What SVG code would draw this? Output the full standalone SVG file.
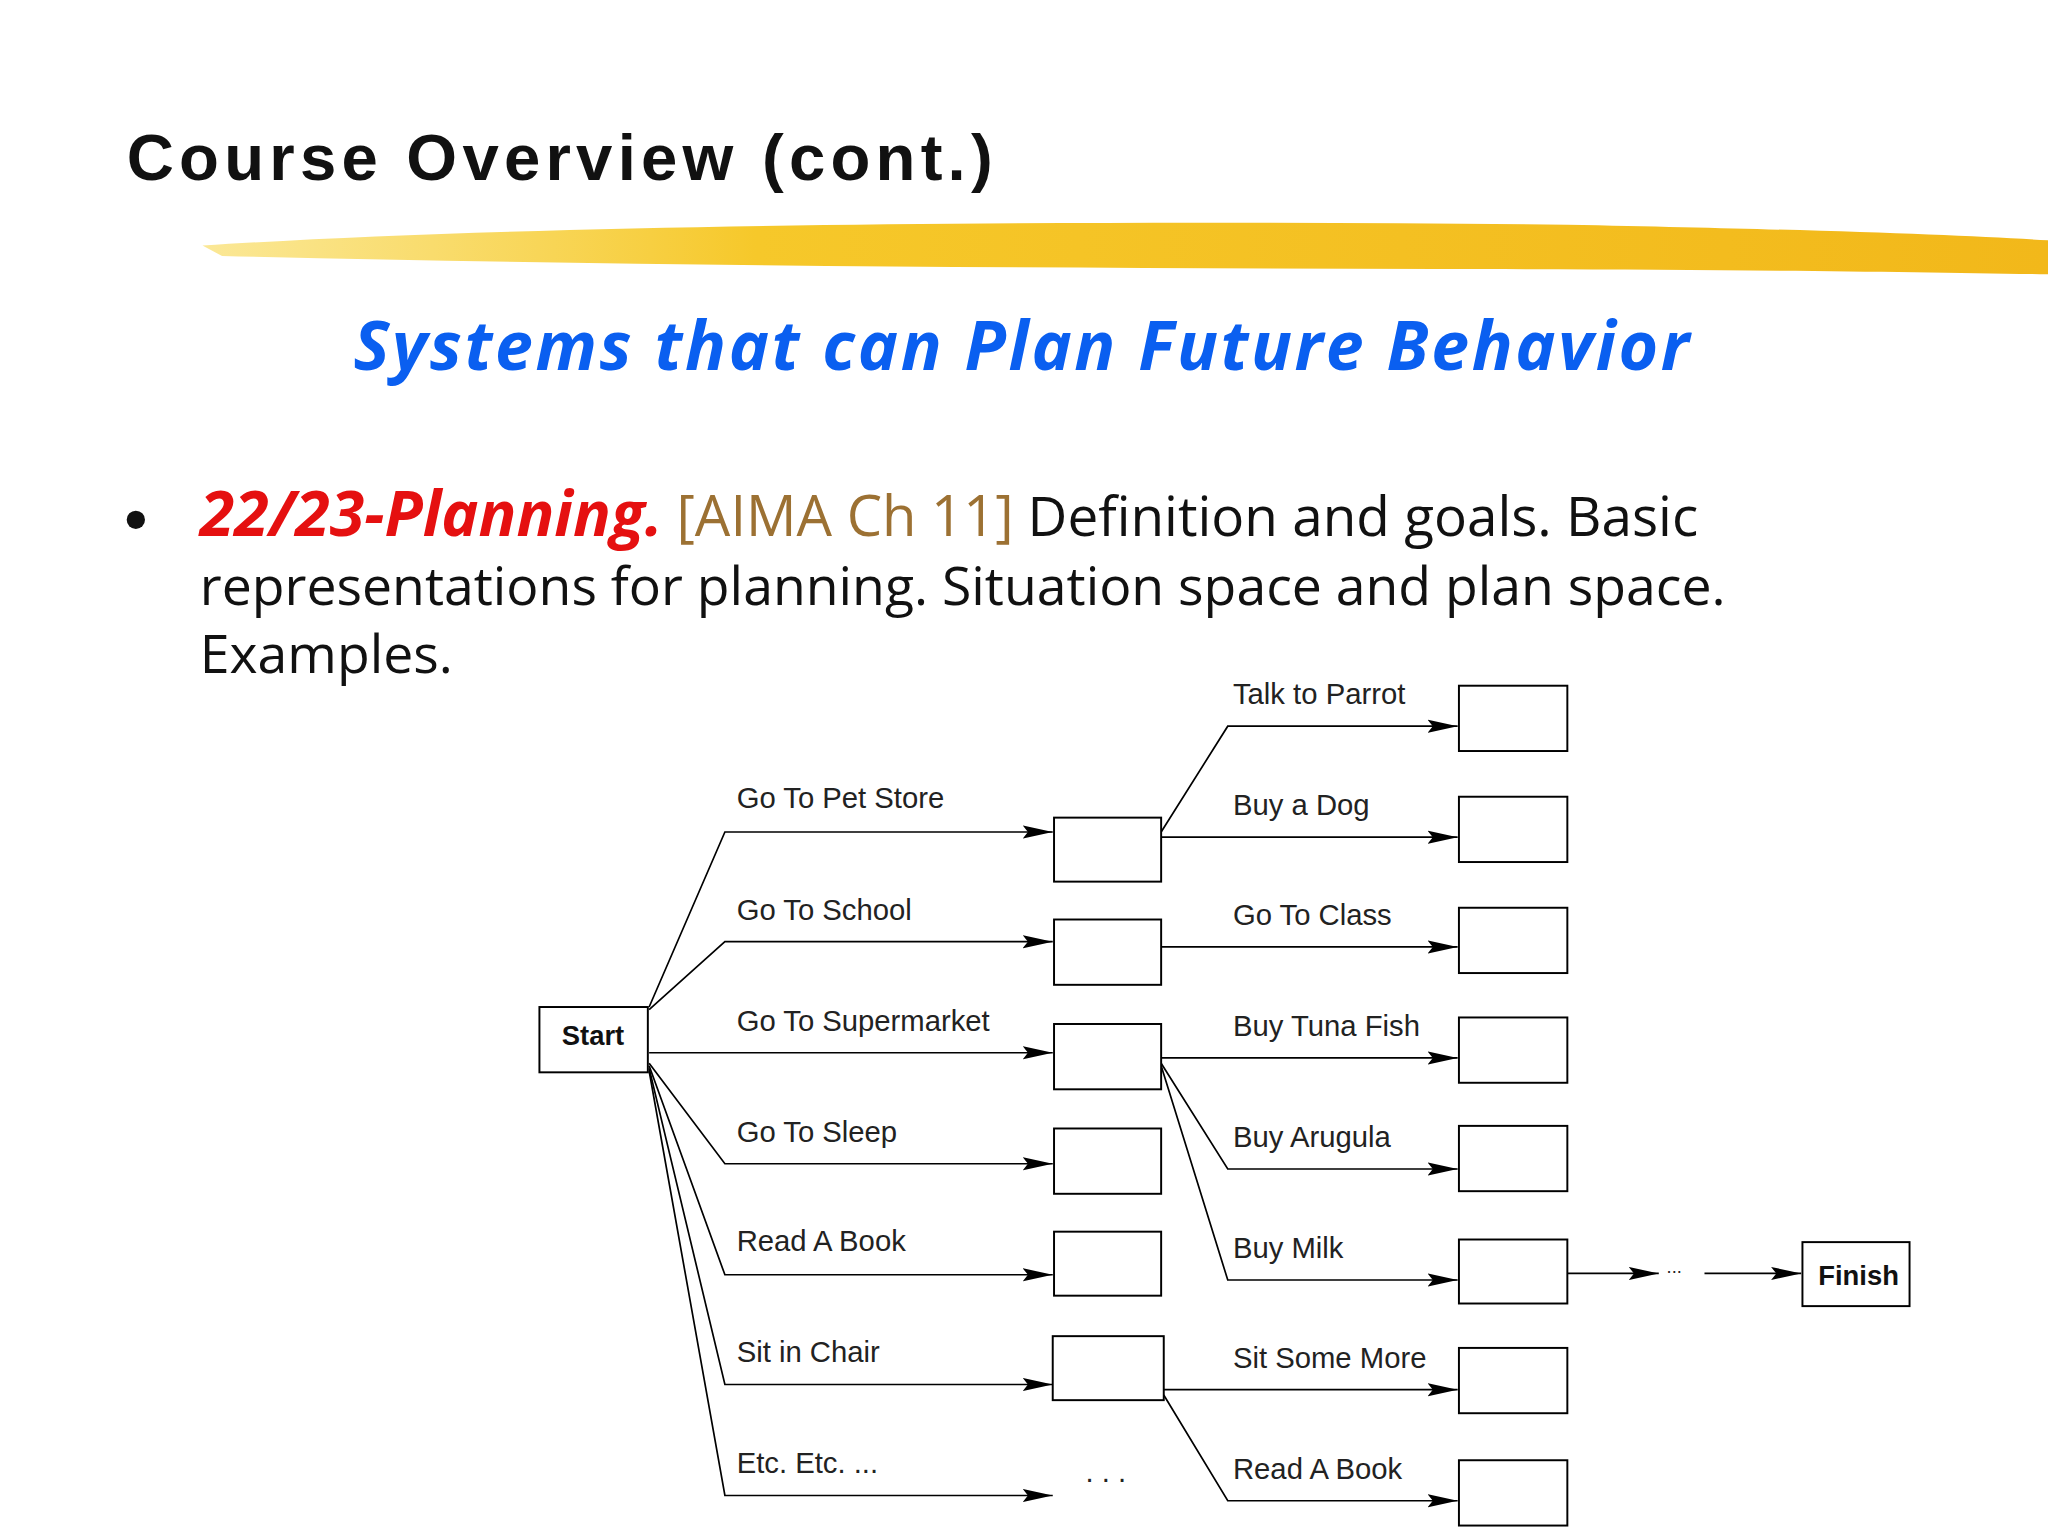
<svg xmlns="http://www.w3.org/2000/svg" width="2048" height="1536" viewBox="0 0 2048 1536">
<defs>
<marker id="ah" markerWidth="24" markerHeight="12" refX="23" refY="6" orient="auto" markerUnits="userSpaceOnUse"><path d="M0,1 L23,6 L0,11 L4,6 Z" fill="#000"/></marker>
<linearGradient id="yb" x1="0" x2="1"><stop offset="0" stop-color="#f8d850" stop-opacity="0.6"/><stop offset="0.3" stop-color="#f6c82a"/><stop offset="1" stop-color="#f2b81a"/></linearGradient>
</defs>
<style>
.b{fill:#fff;stroke:#000;stroke-width:1.5}
.c{fill:none;stroke:#000;stroke-width:1.3;marker-end:url(#ah)}
.l{font-family:"Liberation Sans",Arial,sans-serif;font-size:22.4px;fill:#222}
.bt{font-family:"Liberation Sans",Arial,sans-serif;font-size:21px;font-weight:bold;fill:#111}
.t{font-family:"Open Sans","Liberation Sans",sans-serif;font-size:41px;fill:#111}
</style>
<rect width="2048" height="1536" fill="#fff"/>
<g transform="scale(1.30612)">
<text x="97" y="138" font-family="Liberation Sans,Arial,sans-serif" font-size="50" font-weight="bold" letter-spacing="4" fill="#111">Course Overview (cont.)</text>
<path d="M155,188 C400,172 800,168 1200,172 C1400,176 1500,180 1568,184 L1568,210 C1450,208 1300,206 1100,206 C800,205 500,204 170,196 Z" fill="url(#yb)"/>
<text x="783" y="283" text-anchor="middle" font-family="Open Sans,Liberation Sans,sans-serif" font-size="52" font-weight="bold" font-style="italic" letter-spacing="2" fill="#0a5ff0">Systems that can Plan Future Behavior</text>
<circle cx="104" cy="398" r="7" fill="#111"/>
<text class="t" x="153" y="410"><tspan fill="#e51010" font-weight="bold" font-style="italic" font-size="48">22/23-Planning.</tspan> <tspan fill="#9c7133" font-size="43">[AIMA Ch 11]</tspan> <tspan font-size="42">Definition and goals. Basic</tspan></text>
<text class="t" x="153" y="463">representations for planning. Situation space and plan space.</text>
<text class="t" x="153" y="515">Examples.</text>

<g id="connectors">
<path class="c" d="M497,771 L555,637 L806,637"/>
<path class="c" d="M497,773 L555,721 L806,721"/>
<path class="c" d="M497,806 L806,806"/>
<path class="c" d="M497,814 L555,891 L806,891"/>
<path class="c" d="M497,816 L555,976 L806,976"/>
<path class="c" d="M497,818 L555,1060 L806,1060"/>
<path class="c" d="M497,820 L555,1145 L806,1145"/>
<path class="c" d="M889,637 L940,556 L1116,556"/>
<path class="c" d="M889,641 L1116,641"/>
<path class="c" d="M889,725 L1116,725"/>
<path class="c" d="M889,810 L1116,810"/>
<path class="c" d="M889,814 L940,895 L1116,895"/>
<path class="c" d="M889,816 L940,980 L1116,980"/>
<path class="c" d="M891,1064 L1116,1064"/>
<path class="c" d="M891,1068 L940,1149 L1116,1149"/>
<path class="c" d="M1200,975 L1270,975"/>
<path class="c" d="M1305,975 L1379,975"/>
</g>
<g class="l">
<text x="564" y="619">Go To Pet Store</text>
<text x="564" y="704">Go To School</text>
<text x="564" y="789">Go To Supermarket</text>
<text x="564" y="874">Go To Sleep</text>
<text x="564" y="958">Read A Book</text>
<text x="564" y="1043">Sit in Chair</text>
<text x="564" y="1128">Etc. Etc. ...</text>
<text x="944" y="539">Talk to Parrot</text>
<text x="944" y="624">Buy a Dog</text>
<text x="944" y="708">Go To Class</text>
<text x="944" y="793">Buy Tuna Fish</text>
<text x="944" y="878">Buy Arugula</text>
<text x="944" y="963">Buy Milk</text>
<text x="944" y="1047">Sit Some More</text>
<text x="944" y="1132">Read A Book</text>
<text x="1276" y="975" font-size="14">...</text>
<text x="831" y="1135">. . .</text>
</g>
<g id="start"><rect class="b" x="413" y="771" width="83" height="50"/><text class="bt" x="454" y="800" text-anchor="middle">Start</text></g>
<g id="finish"><rect class="b" x="1380" y="951" width="82" height="49"/><text class="bt" x="1423" y="984" text-anchor="middle">Finish</text></g>
<g id="m1"><rect class="b" x="807" y="626" width="82" height="49"/></g>
<g id="m2"><rect class="b" x="807" y="704" width="82" height="50"/></g>
<g id="m3"><rect class="b" x="807" y="784" width="82" height="50"/></g>
<g id="m4"><rect class="b" x="807" y="864" width="82" height="50"/></g>
<g id="m5"><rect class="b" x="807" y="943" width="82" height="49"/></g>
<g id="m6"><rect class="b" x="806" y="1023" width="85" height="49"/></g>
<g id="r1"><rect class="b" x="1117" y="525" width="83" height="50"/></g>
<g id="r2"><rect class="b" x="1117" y="610" width="83" height="50"/></g>
<g id="r3"><rect class="b" x="1117" y="695" width="83" height="50"/></g>
<g id="r4"><rect class="b" x="1117" y="779" width="83" height="50"/></g>
<g id="r5"><rect class="b" x="1117" y="862" width="83" height="50"/></g>
<g id="r6"><rect class="b" x="1117" y="949" width="83" height="49"/></g>
<g id="r7"><rect class="b" x="1117" y="1032" width="83" height="50"/></g>
<g id="r8"><rect class="b" x="1117" y="1118" width="83" height="50"/></g>
</g>
</svg>
